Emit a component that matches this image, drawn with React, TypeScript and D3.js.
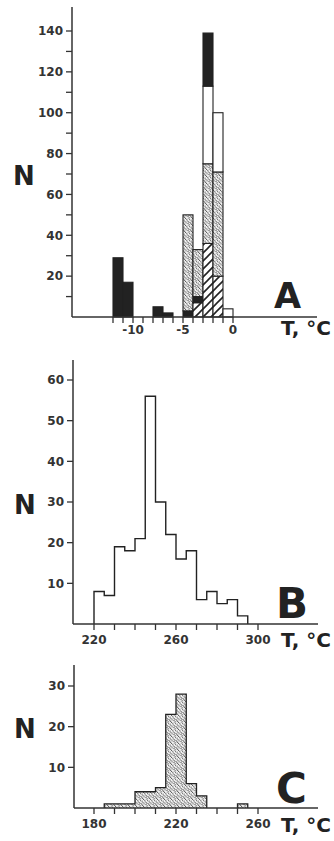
import React from "react";
import * as d3 from "d3";

// panel A: bins are 1 degree wide, left edges
const binsA = [-12, -11, -8, -7, -5, -4, -3, -2, -1];
const hatchedA = [0, 0, 0, 0, 0, 7, 36, 20, 0];
const blackLowA = [29, 17, 5, 2, 3, 3, 0, 0, 0];
const stippleA = [0, 0, 0, 0, 47, 23, 39, 51, 0];
const whiteA = [0, 0, 0, 0, 0, 0, 38, 29, 4];
const blackTopA = [0, 0, 0, 0, 0, 0, 26, 0, 0];

// panel B: 5 degree bins
const binsB = [220, 225, 230, 235, 240, 245, 250, 255, 260, 265, 270, 275, 280, 285, 290];
const countsB = [8, 7, 19, 18, 21, 56, 30, 22, 16, 18, 6, 8, 5, 6, 2];

// panel C: 5 degree bins
const binsC = [185, 190, 195, 200, 205, 210, 215, 220, 225, 230, 250];
const countsC = [1, 1, 1, 4, 4, 5, 23, 28, 6, 3, 1];

const xTicksA = d3.range(-12, 1, 1);
const xLabelsA = [-10, -5, 0];
const yTicksA = d3.range(10, 141, 10);
const yLabelsA = [20, 40, 60, 80, 100, 120, 140];
const xTicksB = d3.range(220, 301, 10);
const xLabelsB = [220, 260, 300];
const yTicksB = [10, 20, 30, 40, 50, 60];
const xTicksC = d3.range(180, 261, 10);
const xLabelsC = [180, 220, 260];
const yTicksC = [10, 20, 30];

const FONT = "'DejaVu Sans', sans-serif";
const INK = "#222";
const AX = "#333";

type Scale = d3.ScaleLinear<number, number>;

// step outline of contiguous runs of bins
function stepPath(x: Scale, y: Scale, bins: number[], vals: number[], w: number) {
  const runs: { b: number; v: number }[][] = [];
  let cur: { b: number; v: number }[] = [];
  bins.forEach((b, i) => {
    if (vals[i] <= 0) {
      if (cur.length) runs.push(cur);
      cur = [];
      return;
    }
    if (cur.length && cur[cur.length - 1].b + w !== b) {
      runs.push(cur);
      cur = [];
    }
    cur.push({ b, v: vals[i] });
  });
  if (cur.length) runs.push(cur);
  const line = d3
    .line<[number, number]>()
    .x((d) => x(d[0]))
    .y((d) => y(d[1]))
    .curve(d3.curveStepAfter);
  return runs
    .map((r) => {
      const last = r[r.length - 1];
      const pts: [number, number][] = [
        [r[0].b, 0],
        ...r.map((d) => [d.b, d.v] as [number, number]),
        [last.b + w, last.v],
        [last.b + w, 0],
      ];
      return line(pts);
    })
    .join("");
}

function Axes({
  x, y, axisX, top, right, ticksX, labelsX, ticksY, labelsY, labelDy,
}: {
  x: Scale; y: Scale; axisX: number; top: number; right: number;
  ticksX: number[]; labelsX: number[]; ticksY: number[]; labelsY: number[]; labelDy: number;
}) {
  const y0 = y(0);
  return (
    <g>
      <line x1={axisX} x2={axisX} y1={top} y2={y0} stroke={AX} strokeWidth={1.5} />
      <line x1={axisX} x2={right} y1={y0} y2={y0} stroke={AX} strokeWidth={1.5} />
      {ticksY.map((t) => (
        <line key={"yt" + t} x1={axisX - 6} x2={axisX} y1={y(t)} y2={y(t)} stroke={AX} strokeWidth={1.3} />
      ))}
      {labelsY.map((t) => (
        <text key={"yl" + t} x={axisX - 9} y={y(t)} dy="0.36em" textAnchor="end"
          fontFamily={FONT} fontWeight="bold" fontSize={12} fill={AX}>{t}</text>
      ))}
      {ticksX.map((t) => (
        <line key={"xt" + t} x1={x(t)} x2={x(t)} y1={y0} y2={y0 + 6} stroke={AX} strokeWidth={1.3} />
      ))}
      {labelsX.map((t) => (
        <text key={"xl" + t} x={x(t)} y={y0 + labelDy} textAnchor="middle"
          fontFamily={FONT} fontWeight="bold" fontSize={12} fill={AX}>{t}</text>
      ))}
    </g>
  );
}

function Labels({ letter, lx, ly, size, tx, ty, nx, ny }: {
  letter: string; lx: number; ly: number; size: number; tx: number; ty: number; nx: number; ny: number;
}) {
  return (
    <g fontFamily={FONT} fontWeight="bold" fill={INK}>
      <text x={lx} y={ly} fontSize={size}>{letter}</text>
      <text x={tx} y={ty} fontSize={20}>T, °C</text>
      <text x={nx} y={ny} fontSize={26}>N</text>
    </g>
  );
}

export default function App() {
  // panel A scales
  const xA = d3.scaleLinear().domain([-12, 0]).range([113, 233]);
  const yA = d3.scaleLinear().domain([0, 140]).range([317, 31]);
  const layersA = [
    { vals: hatchedA, fill: "url(#hatch)" },
    { vals: blackLowA, fill: INK },
    { vals: stippleA, fill: "url(#stipple)" },
    { vals: whiteA, fill: "#fff" },
    { vals: blackTopA, fill: INK },
  ];
  const segsA: { b: number; lo: number; hi: number; fill: string }[] = [];
  binsA.forEach((b, i) => {
    let acc = 0;
    layersA.forEach((l) => {
      const v = l.vals[i];
      if (v > 0) segsA.push({ b, lo: acc, hi: acc + v, fill: l.fill });
      acc += v;
    });
  });

  // panel B scales
  const xB = d3.scaleLinear().domain([220, 300]).range([94, 258]);
  const yB = d3.scaleLinear().domain([0, 60]).range([624, 380]);

  // panel C scales
  const xC = d3.scaleLinear().domain([180, 260]).range([94, 258]);
  const yC = d3.scaleLinear().domain([0, 30]).range([808, 686]);

  // stipple dots inside a 7x7 tile
  const dots: [number, number][] = [
    [0.7, 0.8], [3.6, 1.4], [2.1, 3.2], [5.2, 3.9], [1.0, 5.4], [4.1, 5.8], [6.3, 1.0], [6.0, 6.4],
    [2.6, 0.3], [4.8, 2.5], [0.3, 2.6], [3.0, 4.7], [6.5, 4.8], [1.9, 6.6],
  ];

  return (
    <svg width={334} height={841} style={{ position: "absolute", left: 0, top: 0, background: "#fff" }}>
      <defs>
        <pattern id="stipple" width={7} height={7} patternUnits="userSpaceOnUse">
          <rect width={7} height={7} fill="#f2f2f2" />
          {dots.map((d, i) => (
            <circle key={i} cx={d[0]} cy={d[1]} r={0.6} fill="#555" />
          ))}
        </pattern>
        <pattern id="hatch" width={8} height={8} patternUnits="userSpaceOnUse">
          <rect width={8} height={8} fill="#fff" />
          <path d="M-2,2 L2,-2 M0,8 L8,0 M6,10 L10,6" stroke={INK} strokeWidth={1.6} />
        </pattern>
      </defs>

      {/* panel A */}
      <g>
        {segsA.map((s, i) => (
          <rect key={i} x={xA(s.b)} width={xA(s.b + 1) - xA(s.b)} y={yA(s.hi)} height={yA(s.lo) - yA(s.hi)}
            fill={s.fill} stroke={INK} strokeWidth={1.1} />
        ))}
        <Axes x={xA} y={yA} axisX={72} top={7} right={317} ticksX={xTicksA} labelsX={xLabelsA}
          ticksY={yTicksA} labelsY={yLabelsA} labelDy={17} />
        <Labels letter="A" lx={274} ly={308} size={35} tx={281} ty={335} nx={13} ny={185} />
      </g>

      {/* panel B */}
      <g>
        <path d={stepPath(xB, yB, binsB, countsB, 5)} fill="none" stroke={INK} strokeWidth={1.4} />
        <Axes x={xB} y={yB} axisX={73} top={360} right={318} ticksX={xTicksB} labelsX={xLabelsB}
          ticksY={yTicksB} labelsY={yTicksB} labelDy={20} />
        <Labels letter="B" lx={276} ly={618} size={42} tx={281} ty={647} nx={14} ny={514} />
      </g>

      {/* panel C */}
      <g>
        <path d={stepPath(xC, yC, binsC, countsC, 5)} fill="url(#stipple)" stroke={INK} strokeWidth={1.3} />
        <Axes x={xC} y={yC} axisX={74} top={665} right={318} ticksX={xTicksC} labelsX={xLabelsC}
          ticksY={yTicksC} labelsY={yTicksC} labelDy={20} />
        <Labels letter="C" lx={276} ly={803} size={42} tx={281} ty={832} nx={14} ny={738} />
      </g>
    </svg>
  );
}
